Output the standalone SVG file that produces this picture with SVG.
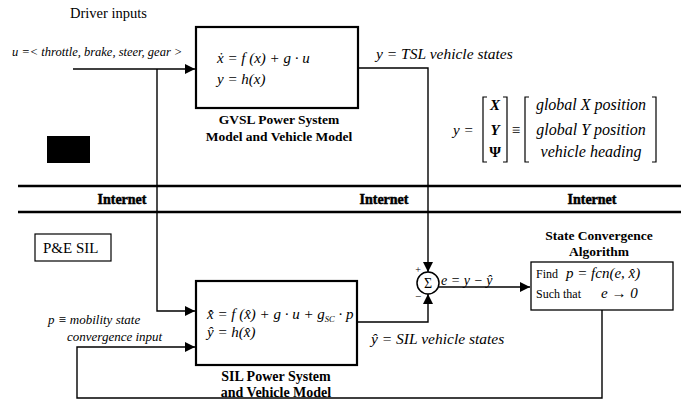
<svg xmlns="http://www.w3.org/2000/svg" width="692" height="404" viewBox="0 0 692 404" font-family="'Liberation Serif', 'Times New Roman', serif">
<defs>
<marker id="arr" markerUnits="userSpaceOnUse" markerWidth="12" markerHeight="10" refX="10" refY="5" orient="auto">
<path d="M0,0 L10,5 L0,10 Z" fill="#000"/>
</marker>
<style>
.t{font-family:'Liberation Serif','Times New Roman',serif;fill:#000}
.i{font-style:italic}
.b{font-weight:bold}
.box{fill:#fff;stroke:#000;stroke-width:2.2}
.ln{fill:none;stroke:#000;stroke-width:1.4}
.band{fill:none;stroke:#000;stroke-width:2.6}
</style>
</defs>
<rect width="692" height="404" fill="#fff"/>

<text class="t" x="70" y="18" font-size="14.5">Driver inputs</text>
<text class="t i" x="12" y="56" font-size="12.5">u =&lt; throttle, brake, steer, gear &gt;</text>

<g id="internet-band">
<line class="band" x1="18" y1="186" x2="681" y2="186"/>
<line class="band" x1="18" y1="212" x2="681" y2="212"/>
<text class="t b" x="122" y="204" font-size="14" text-anchor="middle" stroke="#000" stroke-width="0.5">Internet</text>
<text class="t b" x="384" y="204" font-size="14" text-anchor="middle" stroke="#000" stroke-width="0.5">Internet</text>
<text class="t b" x="592" y="204" font-size="14" text-anchor="middle" stroke="#000" stroke-width="0.5">Internet</text>
</g>

<g id="black-box"><rect x="47" y="136" width="43" height="27" fill="#000"/></g>

<g id="pe-sil">
<rect x="35" y="234" width="76" height="27" fill="#fff" stroke="#000" stroke-width="1.2"/>
<text class="t" x="43" y="253" font-size="15">P&amp;E SIL</text>
</g>

<g id="connectors">
<path class="ln" d="M73,69 H195" marker-end="url(#arr)"/>
<path class="ln" d="M157,69 V311 H195" marker-end="url(#arr)"/>
<path class="ln" d="M358,68 H428 V272" marker-end="url(#arr)"/>
<path class="ln" d="M358,322 H428 V294" marker-end="url(#arr)"/>
<path class="ln" d="M439,287 H530" marker-end="url(#arr)"/>
<path class="ln" d="M602,310 V398 H77 V347 H195" marker-end="url(#arr)"/>
</g>

<g id="gvsl">
<rect class="box" x="196" y="27" width="162" height="81"/>
<text class="t i" x="217" y="63" font-size="15">ẋ = f (x) + g · u</text>
<text class="t i" x="217" y="84" font-size="15">y = h(x)</text>
<text class="t b" x="279" y="124" font-size="13.5" text-anchor="middle">GVSL Power System</text>
<text class="t b" x="279" y="141" font-size="13.5" text-anchor="middle">Model and Vehicle Model</text>
</g>

<text class="t i" x="376" y="59" font-size="15.5">y = TSL vehicle states</text>

<g id="state-def">
<text class="t i" x="453" y="135" font-size="15">y =</text>
<path d="M487,97 H483 V162 H487 M503,97 H507 V162 H503" fill="none" stroke="#000" stroke-width="1.2"/>
<text class="t i b" x="495" y="110" font-size="15" text-anchor="middle">X</text>
<text class="t i b" x="495" y="135" font-size="15" text-anchor="middle">Y</text>
<text class="t b" x="495" y="157" font-size="15" text-anchor="middle">Ψ</text>
<text class="t" x="516" y="135" font-size="15" text-anchor="middle">≡</text>
<path d="M529,97 H525 V162 H529 M652,97 H656 V162 H652" fill="none" stroke="#000" stroke-width="1.2"/>
<text class="t i" x="591" y="110" font-size="16" text-anchor="middle">global X  position</text>
<text class="t i" x="591" y="135" font-size="16" text-anchor="middle">global Y  position</text>
<text class="t i" x="591" y="157" font-size="16" text-anchor="middle">vehicle heading</text>
</g>

<text class="t i" x="48" y="324" font-size="13">p ≡ mobility  state</text>
<text class="t i" x="67" y="341" font-size="13">convergence  input</text>

<g id="sil">
<rect class="box" x="196" y="281" width="161" height="84"/>
<text class="t i" x="207" y="319" font-size="15">x̂̇ = f (x̂) + g · u + g<tspan font-size="8.5" dy="3">SC</tspan><tspan dy="-3"> · p</tspan></text>
<text class="t i" x="207" y="337" font-size="15">ŷ = h(x̂)</text>
<text class="t b" x="276" y="381" font-size="14" text-anchor="middle">SIL Power System</text>
<text class="t b" x="276" y="397" font-size="14" text-anchor="middle">and Vehicle Model</text>
</g>

<text class="t i" x="371" y="344" font-size="15.5">ŷ = SIL vehicle states</text>

<g id="sum">
<circle cx="428" cy="283" r="11" fill="#fff" stroke="#000" stroke-width="1.5"/>
<text class="t" x="428" y="288" font-size="14" text-anchor="middle">Σ</text>
<text class="t" x="418" y="273" font-size="10" text-anchor="middle">+</text>
<text class="t" x="418" y="300" font-size="11" text-anchor="middle">−</text>
</g>
<text class="t i" x="441" y="285" font-size="14">e = y − ŷ</text>

<g id="state-convergence">
<text class="t b" x="599" y="240" font-size="13.5" text-anchor="middle">State Convergence</text>
<text class="t b" x="599" y="256" font-size="13.5" text-anchor="middle">Algorithm</text>
<rect x="531" y="262" width="142" height="48" fill="#fff" stroke="#000" stroke-width="1.3"/>
<text class="t" x="536" y="278" font-size="12">Find</text>
<text class="t i" x="566" y="278" font-size="15">p = fcn(e, x̂)</text>
<text class="t" x="536" y="298" font-size="12">Such that</text>
<text class="t i" x="601" y="298" font-size="15">e → 0</text>
</g>
</svg>
